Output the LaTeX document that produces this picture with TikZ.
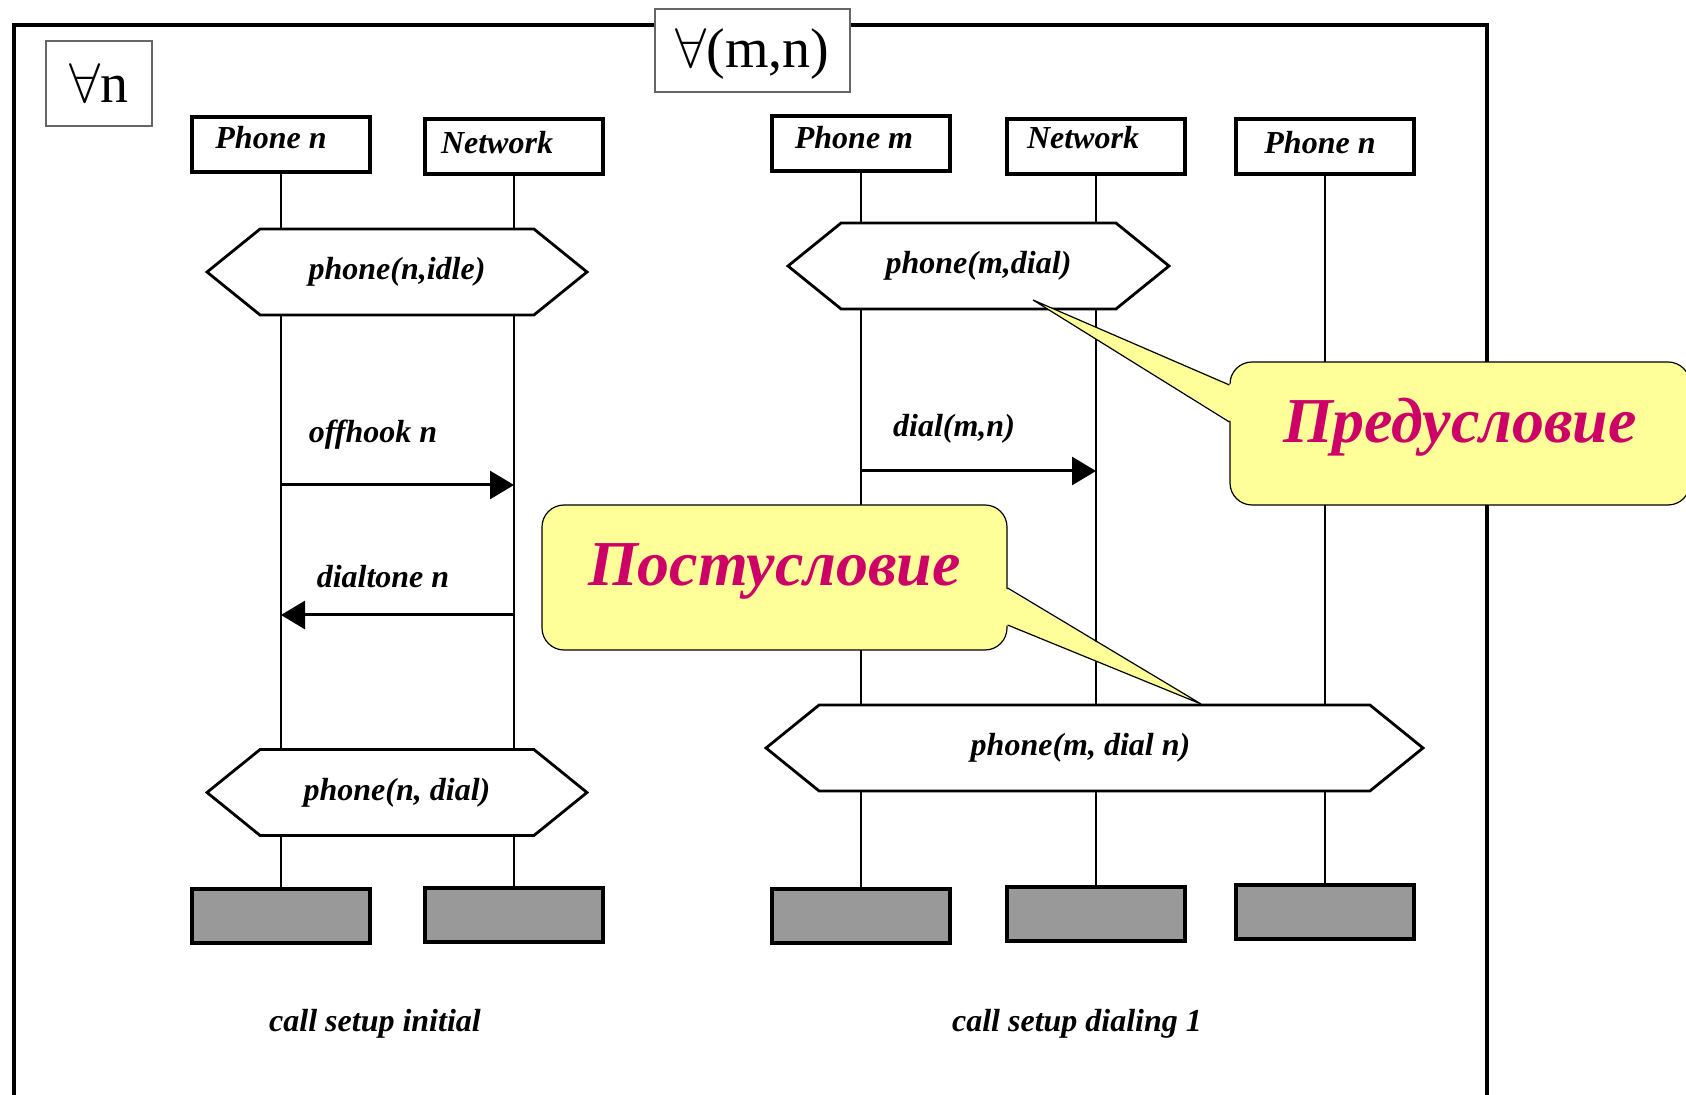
\documentclass[tikz,border=0pt]{standalone}
\usepackage{fix-cm}
\usepackage{fontspec}
\setmainfont{Liberation Serif}
\usetikzlibrary{arrows.meta,shapes.symbols}
\definecolor{notefill}{HTML}{FFFF99}
\definecolor{notetext}{HTML}{CC0066}

\begin{document}
\begin{tikzpicture}[x=0.5pt,y=-0.5pt,
    lbl/.style={font=\fontsize{16}{19}\selectfont\bfseries\itshape},
    head/.style={draw,line width=1.6pt,minimum width=89pt,minimum height=27.5pt,inner sep=0pt},
    cond/.style={draw,line width=1.4pt,signal,signal to=west and east,signal pointer angle=78,
        minimum height=43pt,inner sep=0pt,fill=white,lbl},
    endbox/.style={draw,line width=1.6pt,fill=black!40,minimum width=89pt,minimum height=27pt},
    life/.style={line width=1pt},
    msg/.style={line width=1.5pt,-{Triangle[length=12pt,width=14pt]}},
    quant/.style={draw=black!60,line width=0.6pt,fill=white,inner sep=0pt,font=\fontsize{28}{32}\selectfont},
    note/.style={draw,line width=0.6pt,fill=notefill,rounded corners=11pt,text=notetext,
        font=\fontsize{32}{38}\selectfont\bfseries\itshape}]
\useasboundingbox (0,0) rectangle (1686,1095);
\clip (0,0) rectangle (1686,1095);

% frame
\draw[line width=1.7pt] (14,1120) -- (14,25) -- (1487,25) -- (1487,1120);
\node[quant,minimum width=53pt,minimum height=42.5pt] (qn) at (99,83.5) {$\forall$n};
\node[quant,minimum width=97.5pt,minimum height=41.5pt] (qmn) at (752.5,50.5)
    {\raisebox{-2pt}[\height][\depth]{$\forall$(m,n)}};

% call setup initial
\node[head,label={[lbl,shift={(-10,-7)}]center:Phone n}] (hPn) at (281,144.5) {};
\node[head,label={[lbl,shift={(-17,-4)}]center:Network}] (hNw) at (514,146.5) {};
\node[cond,minimum width=190pt] (c1) at (397,272) {phone(n,idle)};
\node[cond,minimum width=190pt] (c2) at (397,792.5) {phone(n, dial)};
\node[endbox] (ePn) at (281,916) {};
\node[endbox] (eNw) at (514,915) {};

\draw[life] (hPn) -- (hPn |- c1.north);
\draw[life] (hPn |- c1.south) -- (hPn |- c2.north);
\draw[life] (hPn |- c2.south) -- (ePn);
\draw[life] (hNw) -- (hNw |- c1.north);
\draw[life] (hNw |- c1.south) -- (hNw |- c2.north);
\draw[life] (hNw |- c2.south) -- (eNw);

\draw[msg] (hPn |- 0,485) -- (hNw |- 0,485);
\node[lbl] (lOff) at (373,435) {offhook n};
\draw[msg] (hNw |- 0,615) -- (hPn |- 0,615);
\node[lbl] (lTone) at (383,577) {dialtone n};

\node[lbl] (tInit) at (375,1024) {call setup initial};

% call setup dialing 1
\node[head,label={[lbl,shift={(-7,-6)}]center:Phone m}] (hPm) at (861,143.5) {};
\node[head,label={[lbl,shift={(-13,-9)}]center:Network}] (hNwR) at (1096,146.5) {};
\node[head,label={[lbl,shift={(-5,-4)}]center:Phone n}] (hPnR) at (1325,146.5) {};
\node[cond,minimum width=190.5pt] (c3) at (978.5,266) {phone(m,dial)};
\node[cond,minimum width=328.5pt] (c4) at (1094.5,748) {phone(m, dial n)\kern14pt};
\node[endbox] (ePm) at (861,916) {};
\node[endbox] (eNwR) at (1096,914) {};
\node[endbox] (ePnR) at (1325,912) {};

\draw[life] (hPm) -- (hPm |- c3.north);
\draw[life] (hPm |- c3.south) -- (hPm |- c4.north);
\draw[life] (hPm |- c4.south) -- (ePm);
\draw[life] (hNwR) -- (hNwR |- c3.north);
\draw[life] (hNwR |- c3.south) -- (hNwR |- c4.north);
\draw[life] (hNwR |- c4.south) -- (eNwR);
\draw[life] (hPnR) -- (hPnR |- c4.north);
\draw[life] (hPnR |- c4.south) -- (ePnR);

\draw[msg] (hPm |- 0,471) -- (hNwR |- 0,471);
\node[lbl] (lDial) at (954,429) {dial(m,n)};

\node[lbl] (tDial) at (1077,1024) {call setup dialing 1};

% notes
\node[note,minimum width=230pt,minimum height=71.5pt] (pre) at (1460,433.5)
    {\raisebox{3.25pt}[\height][\depth]{Предусловие}};
\coordinate (preTip) at (1033,300);
\coordinate (preA) at (1232,385);
\coordinate (preB) at (1232,422);
\fill[notefill] (preA) -- (preTip) -- (preB) -- cycle;
\draw[line width=0.6pt] (pre.west |- preA) -- (preTip) -- (pre.west |- preB);

\node[note,minimum width=232.5pt,minimum height=72.5pt] (post) at (774.5,577.5)
    {\raisebox{3.25pt}[\height][\depth]{Постусловие}};
\coordinate (postTip) at (1201,704);
\coordinate (postA) at (1005,588);
\coordinate (postB) at (1005,625);
\fill[notefill] (postA) -- (postTip) -- (postB) -- cycle;
\draw[line width=0.6pt] (post.east |- postA) -- (postTip) -- (post.east |- postB);
\end{tikzpicture}
\end{document}
